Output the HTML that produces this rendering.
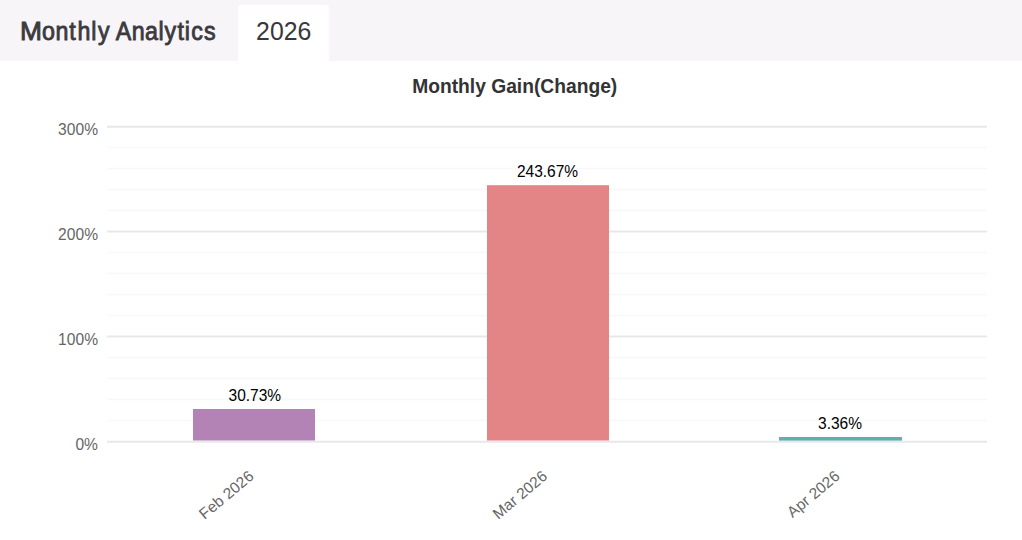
<!DOCTYPE html>
<html>
<head>
<meta charset="utf-8">
<style>
html,body{margin:0;padding:0;}
body{width:1022px;height:540px;overflow:hidden;background:#ffffff;position:relative;font-family:"Liberation Sans",sans-serif;}
svg{position:absolute;left:0;top:0;}
</style>
</head>
<body>
<svg width="1022" height="540" viewBox="0 0 1022 540" xmlns="http://www.w3.org/2000/svg" font-family="Liberation Sans, sans-serif">
  <rect x="0" y="0" width="1022" height="61" fill="#f7f5f8"/>
  <path d="M238 61V6.8a1.8 1.8 0 0 1 1.8-1.8H327a1.8 1.8 0 0 1 1.8 1.8V61Z" fill="#ffffff"/>
  <g font-size="25" fill="#3b3a3f" stroke="#3b3a3f" stroke-width="0.85">
    <text transform="translate(19.96,39.6) scale(1.055,1)">M</text>
    <text transform="translate(0,39.6) scale(0.93,1)" x="45.1 59.76 74.48 83.45 98.12 105.34">onthly</text>
    <text transform="translate(0,39.6) scale(0.93,1)" x="124.49 141.69 155.84 170.49 176.95 190.83 198.67 205.52 219.43">Analytics</text>
  </g>
  <text transform="translate(256.1,39.6) scale(0.955,1)" font-size="26" fill="#38373c">2026</text>

  <text transform="translate(514.7,93) scale(0.987,1)" text-anchor="middle" font-size="19.5" font-weight="bold" fill="#333333">Monthly Gain(Change)</text>
  <!-- minor grid -->
  <g stroke="#f9f7fa" stroke-width="1.5">
    <path d="M107 147.5H987M107 168.5H987M107 189.5H987M107 210.5H987"/>
    <path d="M107 252.5H987M107 273.5H987M107 294.5H987M107 315.5H987"/>
    <path d="M107 357.5H987M107 378.5H987M107 399.5H987M107 420.5H987"/>
  </g>
  <!-- major grid -->
  <g stroke="#e9e7eb" stroke-width="2">
    <path d="M107 126.7H987M107 231.6H987M107 336.6H987M107 441.7H987"/>
  </g>
  <g font-size="16" fill="#666666" text-anchor="end">
    <text transform="translate(98,135) scale(0.975,1)">300%</text>
    <text transform="translate(98,240) scale(0.975,1)">200%</text>
    <text transform="translate(98,345) scale(0.975,1)">100%</text>
    <text transform="translate(98,450) scale(0.975,1)">0%</text>
  </g>
  <rect x="193" y="409" width="122" height="31.5" fill="#b483b5"/>
  <rect x="487" y="185.2" width="122" height="255.3" fill="#e38586"/>
  <rect x="779" y="437" width="123" height="3.6" fill="#63adb1"/>
  <g font-size="16" fill="#000000" text-anchor="middle">
    <text transform="translate(254.8,401) scale(0.97,1)">30.73%</text>
    <text transform="translate(547.5,177) scale(0.97,1)">243.67%</text>
    <text transform="translate(840,429) scale(0.97,1)">3.36%</text>
  </g>
  <g font-size="15.5" fill="#666666" text-anchor="end">
    <text transform="translate(254.8,477.8) rotate(-40)">Feb 2026</text>
    <text transform="translate(548.3,477.8) rotate(-40)">Mar 2026</text>
    <text transform="translate(840.8,477.8) rotate(-40)">Apr 2026</text>
  </g>
</svg>
</body>
</html>
